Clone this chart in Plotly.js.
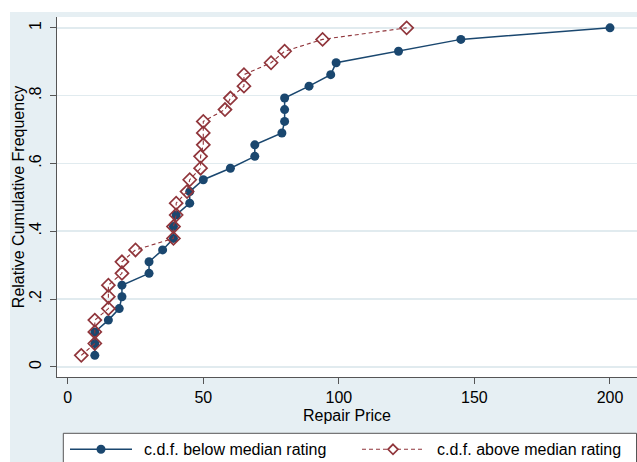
<!DOCTYPE html>
<html>
<head>
<meta charset="utf-8">
<script src="https://cdn.plot.ly/plotly-3.0.1.min.js"></script>
<style>
  html, body { margin: 0; padding: 0; background: #ffffff; overflow: hidden; width: 637px; height: 462px; }
  #chart { position: absolute; left: 10px; top: 12px; width: 627px; height: 450px; }
</style>
</head>
<body>
<div id="chart"></div>
<script>
// ---- data ----
const priceBelow = [10,10,10,15,19,20,20,30,30,35,39,39,40,45,45,50,60,69,69,79,80,80,80,89,97,99,122,145,200];
const cdfBelow   = [0.034,0.069,0.103,0.138,0.172,0.207,0.241,0.276,0.310,0.345,0.379,0.414,0.448,0.483,0.517,0.552,0.586,0.621,0.655,0.690,0.724,0.759,0.793,0.828,0.862,0.897,0.931,0.966,1.000];
const priceAbove = [5,10,10,10,15,15,15,20,20,25,39,39,40,40,44,45,49,49,50,50,50,58,60,65,65,75,80,94,125];
const cdfAbove   = [0.034,0.069,0.103,0.138,0.172,0.207,0.241,0.276,0.310,0.345,0.379,0.414,0.448,0.483,0.517,0.552,0.586,0.621,0.655,0.690,0.724,0.759,0.793,0.828,0.862,0.897,0.931,0.966,1.000];
const xTickVals = [0,50,100,150,200];
const xTickText = ["0","50","100","150","200"];
const yTickVals = [0,0.2,0.4,0.6,0.8,1];
const yTickText = ["0",".2",".4",".6",".8","1"];
const seriesNames = ["c.d.f. below median rating","c.d.f. above median rating"];
const xTitle = "Repair Price";
const yTitle = "Relative Cumulative Frequency";

// ---- styles ----
const navy = "#1a476f";
const maroon = "#90353b";
const bg = "#e6eff3";
const grid = "#e1ebef";
const axisCol = "#555555";
const FONT = "Liberation Sans, Arial, Helvetica, sans-serif";

// page pixel -> paper coords (div at 10,12; plot area l=47, t=5, w=580, h=360)
const M = {l: 47, t: 5, w: 580, h: 360};
const px = x => (x - 10 - M.l) / M.w;
const py = y => (M.t + M.h - (y - 12)) / M.h;

const traces = [
  {
    x: priceBelow, y: cdfBelow, type: "scatter", mode: "lines+markers",
    name: seriesNames[0],
    line: {color: navy, width: 1.5},
    marker: {color: navy, size: 9, symbol: "circle"},
    showlegend: false, hoverinfo: "skip"
  },
  {
    x: priceAbove, y: cdfAbove, type: "scatter", mode: "lines+markers",
    name: seriesNames[1],
    line: {color: maroon, width: 1.1, dash: "4px,3px"},
    marker: {color: maroon, size: 10, symbol: "diamond-open", line: {color: maroon, width: 1.7}},
    showlegend: false, hoverinfo: "skip"
  }
];

// legend (Stata-style box)
const legY = 449.3;
const dx = 5, dy = 5;
const shapes = [
  {type: "rect", xref: "paper", yref: "paper", x0: px(63.3), x1: px(636.5), y0: py(433.3), y1: py(490),
   fillcolor: "#ffffff", line: {color: "#555555", width: 1}, layer: "above"},
  {type: "line", xref: "paper", yref: "paper", x0: px(70), x1: px(132), y0: py(legY), y1: py(legY),
   line: {color: navy, width: 1.5}, layer: "above"},
  {type: "circle", xref: "paper", yref: "paper", x0: px(101 - 4.5), x1: px(101 + 4.5), y0: py(legY + 4.5), y1: py(legY - 4.5),
   fillcolor: navy, line: {color: navy, width: 0}, layer: "above"},
  {type: "line", xref: "paper", yref: "paper", x0: px(362), x1: px(424), y0: py(legY), y1: py(legY),
   line: {color: maroon, width: 1.1, dash: "4px,3px"}, layer: "above"},
  {type: "path", xref: "paper", yref: "paper",
   path: "M" + px(393) + "," + py(legY - dy) + " L" + px(393 + dx) + "," + py(legY) + " L" + px(393) + "," + py(legY + dy) +
         " L" + px(393 - dx) + "," + py(legY) + " Z",
   fillcolor: "#ffffff", line: {color: maroon, width: 1.7}, layer: "above"}
];

const annotations = [
  {xref: "paper", yref: "paper", x: px(141.5), y: py(legY), xanchor: "left", yanchor: "middle",
   text: seriesNames[0], showarrow: false, font: {family: FONT, size: 16, color: "#000"}},
  {xref: "paper", yref: "paper", x: px(434.5), y: py(legY), xanchor: "left", yanchor: "middle",
   text: seriesNames[1], showarrow: false, font: {family: FONT, size: 16, color: "#000"}}
];

const layout = {
  width: 627, height: 450,
  margin: {l: M.l, r: 0, t: M.t, b: 450 - M.t - M.h, pad: 0},
  paper_bgcolor: bg, plot_bgcolor: "#ffffff",
  font: {family: FONT, size: 16, color: "#000"},
  showlegend: false,
  xaxis: {
    range: [-3.95, 209.96], tickvals: xTickVals, ticktext: xTickText,
    showgrid: false, zeroline: false, showline: true, linecolor: axisCol, linewidth: 1,
    ticks: "outside", ticklen: 6, tickcolor: axisCol, tickwidth: 1,
    tickfont: {family: FONT, size: 16, color: "#000"},
    title: {text: xTitle, font: {family: FONT, size: 16, color: "#000"}, standoff: 4},
    automargin: false, fixedrange: true
  },
  yaxis: {
    range: [-0.0298, 1.032], tickvals: yTickVals, ticktext: yTickText, tickangle: -90,
    ticklabelstandoff: 3,
    showgrid: true, gridcolor: grid, gridwidth: 1.6, zeroline: false,
    showline: true, linecolor: axisCol, linewidth: 1,
    ticks: "outside", ticklen: 6, tickcolor: axisCol, tickwidth: 1,
    tickfont: {family: FONT, size: 16, color: "#000"},
    title: {text: yTitle, font: {family: FONT, size: 16, color: "#000"}, standoff: 4},
    automargin: false, fixedrange: true
  },
  shapes: shapes,
  annotations: annotations
};

Plotly.newPlot("chart", traces, layout, {displayModeBar: false, staticPlot: true});
</script>
</body>
</html>
